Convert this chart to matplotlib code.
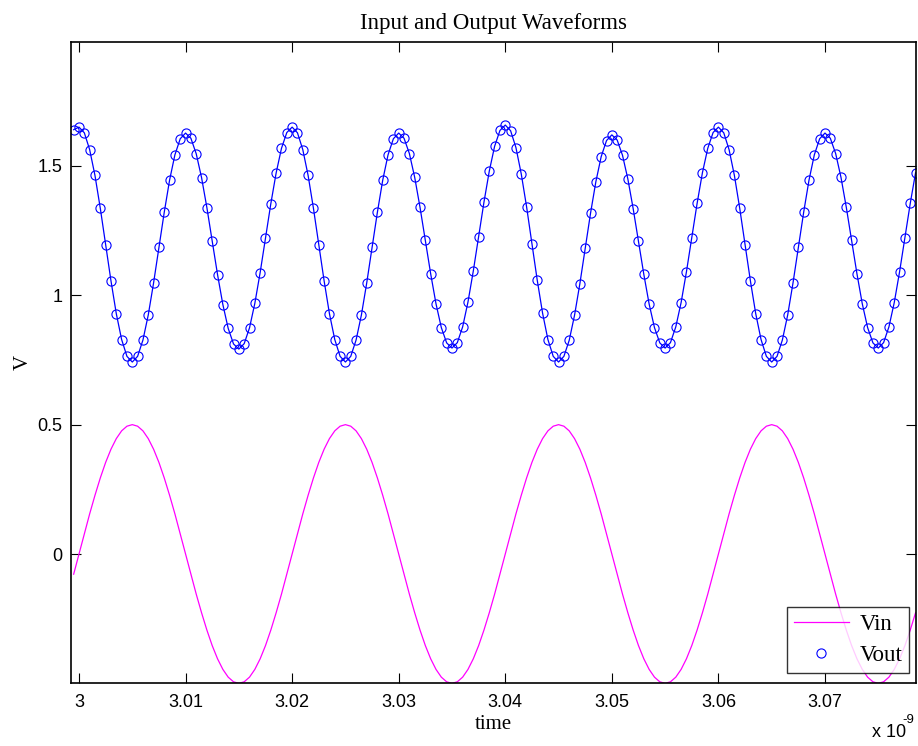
import matplotlib
matplotlib.use("Agg")
import matplotlib.pyplot as plt
import numpy as np

# time offsets in ps relative to 3 ns
t_ps = [
    -0.5, 0.0, 0.5, 1.0, 1.5, 2.0, 2.5, 3.0, 3.5, 4.0,
    4.5, 5.0, 5.5, 6.0, 6.5, 7.0, 7.5, 8.0, 8.5, 9.0,
    9.5, 10.0, 10.5, 11.0, 11.5, 12.0, 12.5, 13.0, 13.5, 14.0,
    14.5, 15.0, 15.5, 16.0, 16.5, 17.0, 17.5, 18.0, 18.5, 19.0,
    19.5, 20.0, 20.5, 21.0, 21.5, 22.0, 22.5, 23.0, 23.5, 24.0,
    24.5, 25.0, 25.5, 26.0, 26.5, 27.0, 27.5, 28.0, 28.5, 29.0,
    29.5, 30.0, 30.5, 31.0, 31.5, 32.0, 32.5, 33.0, 33.5, 34.0,
    34.5, 35.0, 35.5, 36.0, 36.5, 37.0, 37.5, 38.0, 38.5, 39.0,
    39.5, 40.0, 40.5, 41.0, 41.5, 42.0, 42.5, 43.0, 43.5, 44.0,
    44.5, 45.0, 45.5, 46.0, 46.5, 47.0, 47.5, 48.0, 48.5, 49.0,
    49.5, 50.0, 50.5, 51.0, 51.5, 52.0, 52.5, 53.0, 53.5, 54.0,
    54.5, 55.0, 55.5, 56.0, 56.5, 57.0, 57.5, 58.0, 58.5, 59.0,
    59.5, 60.0, 60.5, 61.0, 61.5, 62.0, 62.5, 63.0, 63.5, 64.0,
    64.5, 65.0, 65.5, 66.0, 66.5, 67.0, 67.5, 68.0, 68.5, 69.0,
    69.5, 70.0, 70.5, 71.0, 71.5, 72.0, 72.5, 73.0, 73.5, 74.0,
    74.5, 75.0, 75.5, 76.0, 76.5, 77.0, 77.5, 78.0, 78.5,
]

v_in = [
    -0.078,
    0.000, 0.078, 0.155, 0.227, 0.294, 0.354, 0.405, 0.446, 0.476, 0.494,
    0.500, 0.494, 0.476, 0.446, 0.405, 0.354, 0.294, 0.227, 0.155, 0.078,
    0.000, -0.078, -0.155, -0.227, -0.294, -0.354, -0.405, -0.446, -0.476, -0.494,
    -0.500, -0.494, -0.476, -0.446, -0.405, -0.354, -0.294, -0.227, -0.155, -0.078,
    0.000, 0.078, 0.155, 0.227, 0.294, 0.354, 0.405, 0.446, 0.476, 0.494,
    0.500, 0.494, 0.476, 0.446, 0.405, 0.354, 0.294, 0.227, 0.155, 0.078,
    0.000, -0.078, -0.155, -0.227, -0.294, -0.354, -0.405, -0.446, -0.476, -0.494,
    -0.500, -0.494, -0.476, -0.446, -0.405, -0.354, -0.294, -0.227, -0.155, -0.078,
    0.000, 0.078, 0.155, 0.227, 0.294, 0.354, 0.405, 0.446, 0.476, 0.494,
    0.500, 0.494, 0.476, 0.446, 0.405, 0.354, 0.294, 0.227, 0.155, 0.078,
    0.000, -0.078, -0.155, -0.227, -0.294, -0.354, -0.405, -0.446, -0.476, -0.494,
    -0.500, -0.494, -0.476, -0.446, -0.405, -0.354, -0.294, -0.227, -0.155, -0.078,
    0.000, 0.078, 0.155, 0.227, 0.294, 0.354, 0.405, 0.446, 0.476, 0.494,
    0.500, 0.494, 0.476, 0.446, 0.405, 0.354, 0.294, 0.227, 0.155, 0.078,
    0.000, -0.078, -0.155, -0.227, -0.294, -0.354, -0.405, -0.446, -0.476, -0.494,
    -0.500, -0.494, -0.476, -0.446, -0.405, -0.354, -0.294, -0.227,
]

v_out = [
    1.640,
    1.650, 1.628, 1.563, 1.463, 1.336, 1.196, 1.056, 0.929, 0.829, 0.764, 0.742,
    0.764, 0.827, 0.924, 1.048, 1.185, 1.321, 1.445, 1.543, 1.605, 1.627,
    1.607, 1.547, 1.455, 1.339, 1.210, 1.080, 0.964, 0.872, 0.812, 0.792,
    0.813, 0.874, 0.969, 1.088, 1.221, 1.354, 1.473, 1.568, 1.629, 1.650,
    1.628, 1.563, 1.463, 1.336, 1.196, 1.056, 0.929, 0.829, 0.764, 0.742,
    0.764, 0.827, 0.924, 1.048, 1.185, 1.321, 1.445, 1.543, 1.605, 1.627,
    1.607, 1.548, 1.456, 1.340, 1.212, 1.083, 0.967, 0.875, 0.816, 0.796,
    0.817, 0.878, 0.974, 1.094, 1.227, 1.360, 1.480, 1.576, 1.637, 1.658,
    1.636, 1.571, 1.469, 1.342, 1.200, 1.058, 0.931, 0.829, 0.764, 0.742,
    0.764, 0.826, 0.923, 1.045, 1.181, 1.317, 1.439, 1.536, 1.598, 1.620,
    1.600, 1.541, 1.450, 1.335, 1.208, 1.081, 0.966, 0.875, 0.816, 0.796,
    0.817, 0.878, 0.972, 1.091, 1.223, 1.355, 1.474, 1.568, 1.629, 1.650,
    1.628, 1.563, 1.463, 1.336, 1.196, 1.056, 0.929, 0.829, 0.764, 0.742,
    0.764, 0.827, 0.924, 1.048, 1.185, 1.321, 1.445, 1.543, 1.605, 1.627,
    1.607, 1.548, 1.456, 1.340, 1.212, 1.083, 0.967, 0.875, 0.816, 0.796,
    0.817, 0.878, 0.972, 1.091, 1.223, 1.355, 1.474,
]

x_ticks = [3.00, 3.01, 3.02, 3.03, 3.04, 3.05, 3.06, 3.07]
x_tick_labels = ["3", "3.01", "3.02", "3.03", "3.04", "3.05", "3.06", "3.07"]
y_ticks = [0, 0.5, 1, 1.5]
y_tick_labels = ["0", "0.5", "1", "1.5"]

n = min(len(t_ps), len(v_in), len(v_out))
t_ns = 3.0 + np.array(t_ps[:n]) / 1000.0
vin = np.array(v_in[:n])
vout = np.array(v_out[:n])

sans = ["Liberation Sans", "DejaVu Sans"]
serif = ["Liberation Serif", "DejaVu Serif"]

W, H = 918, 746
fig = plt.figure(figsize=(W / 100, H / 100), dpi=100)
ax_l, ax_r, ax_t, ax_b = 71, 916, 42, 683
ax = fig.add_axes([ax_l / W, 1 - ax_b / H, (ax_r - ax_l) / W, (ax_b - ax_t) / H])

ax.plot(t_ns, vin, color="#ff00ff", lw=0.9, label="Vin")
ax.plot(t_ns, vout, linestyle="none", marker="o", markersize=6.6,
        markerfacecolor="none", markeredgecolor="#0000ff", markeredgewidth=0.8,
        label="Vout")
ax.plot(t_ns, vout, color="#0000ff", lw=0.9)

ax.set_xlim(2.99925, 3.07854)
ax.set_ylim(-0.4986, 1.979)
ax.set_xticks(x_ticks)
ax.set_xticklabels(x_tick_labels, fontfamily=sans, fontsize=13)
ax.set_yticks(y_ticks)
ax.set_yticklabels(y_tick_labels, fontfamily=sans, fontsize=13)
ax.tick_params(direction="in", length=7, width=0.8, top=True, right=True)
ax.tick_params(axis="x", pad=8)
ax.tick_params(axis="y", pad=6)
for s in ax.spines.values():
    s.set_linewidth(1.2)

ax.set_title("Input and Output Waveforms", fontfamily=serif, fontsize=16.5, pad=9)
ax.set_xlabel("time", fontfamily=serif, fontsize=15, labelpad=3)
ax.set_ylabel("V", fontfamily=serif, fontsize=15)
ax.yaxis.set_label_coords(-(ax_l - 33) / (ax_r - ax_l), 0.5)

fig.text(872 / W, 1 - 737 / H, "x 10", fontfamily=sans, fontsize=13,
         ha="left", va="baseline")
fig.text(902 / W, 1 - 723 / H, "-9", fontfamily=sans, fontsize=9.5,
         ha="left", va="baseline")

leg = ax.legend(loc="lower right",
                bbox_to_anchor=((909 - ax_l) / (ax_r - ax_l), (ax_b - 673) / (ax_b - ax_t)),
                prop={"family": serif, "size": 16.5},
                frameon=True, fancybox=False, edgecolor="black",
                borderaxespad=0.0, handlelength=2.4, borderpad=0.3,
                labelspacing=0.45, handletextpad=0.45)
leg.get_frame().set_linewidth(1.0)

fig.savefig("out.png", dpi=100)
